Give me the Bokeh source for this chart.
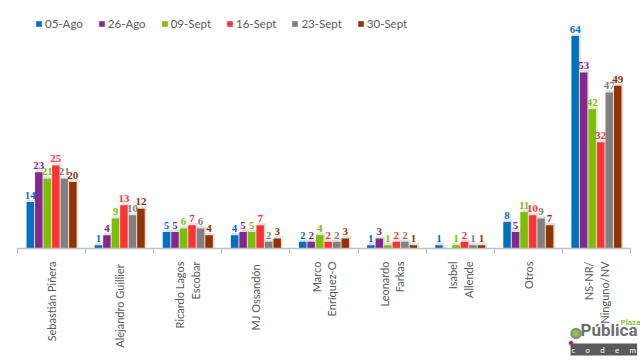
import math
from bokeh.plotting import figure
from bokeh.models import (ColumnDataSource, FixedTicker, Range1d, Legend, LegendItem, Label)
from bokeh.embed import file_html
from bokeh.resources import INLINE

categories = ["Sebastián Piñera", "Alejandro  Guillier", "Ricardo Lagos\nEscobar", "MJ  Ossandón",
              "Marco\nEnríquez-O", "Leonardo\nFarkas", "Isabel\nAllende", "Otros", "NS-NR/\nNinguno/NV"]
series_names = ["05-Ago", "26-Ago", "09-Sept", "16-Sept", "23-Sept", "30-Sept"]
v_05ago = [14, 1, 5, 4, 2, 1, 1, 8, 64]
v_26ago = [23, 4, 5, 5, 2, 3, 0, 5, 53]
v_09sep = [21, 9, 6, 5, 4, 1, 1, 11, 42]
v_16sep = [25, 13, 7, 7, 2, 2, 2, 10, 32]
v_23sep = [21, 10, 6, 2, 2, 2, 1, 9, 47]
v_30sep = [20, 12, 4, 3, 3, 1, 1, 7, 49]
series_values = [v_05ago, v_26ago, v_09sep, v_16sep, v_23sep, v_30sep]
colors = ["#0070C0", "#84278F", "#7DBE00", "#FF3333", "#808080", "#923300"]

FONT = "Lato"
n = len(categories)
W, H = 640, 364
PX_X = 613 / 9.0          # pixels per category
PX_Y = 3.32               # pixels per percentage point
BASE = 248                # baseline, pixels from top
LEFT = 17
xs0 = -0.5 - LEFT / PX_X
xs1 = xs0 + W / PX_X
ys1 = BASE / PX_Y
ys0 = -(H - BASE) / PX_Y

p = figure(width=W, height=H, output_backend="svg", toolbar_location=None,
           x_range=Range1d(xs0, xs1), y_range=Range1d(ys0, ys1),
           min_border=0, min_border_left=0, min_border_right=0,
           min_border_top=0, min_border_bottom=0)
p.outline_line_color = None
p.grid.visible = False
p.yaxis.visible = False
p.background_fill_color = "white"

def dx(px):
    return xs0 + px / PX_X
def dy(py):
    return (BASE - py) / PX_Y

step = 0.125
bw = 0.11
items = []
for j, (name, vals, col) in enumerate(zip(series_names, series_values, colors)):
    xs = [i + (j - 2.5) * step for i in range(n)]
    sh = ColumnDataSource(dict(x=[x + 0.018 for x in xs], top=[v + 0.7 if v > 0 else 0 for v in vals]))
    p.vbar(x="x", top="top", bottom=0, width=bw + 0.02, source=sh, fill_color="#c9c9c9",
           fill_alpha=0.55, line_color=None)
    src = ColumnDataSource(dict(x=xs, top=vals))
    r = p.vbar(x="x", top="top", bottom=0, width=bw, source=src, fill_color=col, line_color=None)
    items.append(LegendItem(label=name, renderers=[r]))
    lx = [x for x, v in zip(xs, vals) if v > 0]
    ly = [v + 1.0 for v in vals if v > 0]
    lt = [str(v) for v in vals if v > 0]
    p.text(x=lx, y=ly, text=lt, text_color=col, text_font_size="11px", text_font_style="bold",
           text_align="center", text_baseline="bottom", text_font=FONT)

legend = Legend(items=items, orientation="horizontal", location=(35, H - 30),
                label_text_font=FONT, label_text_font_size="11.5px", label_text_color="#595959",
                glyph_width=7, glyph_height=7, label_standoff=3, spacing=15,
                background_fill_alpha=0, border_line_color=None, padding=0, margin=0,
                label_height=12, label_width=10)
p.add_layout(legend)

ax = p.xaxis[0]
ax.fixed_location = 0
ax.bounds = (-0.5, n - 0.5)
ax.ticker = FixedTicker(ticks=list(range(n)), minor_ticks=[i - 0.5 for i in range(n + 1)])
ax.major_label_overrides = {i: c for i, c in enumerate(categories)}
ax.major_label_orientation = math.pi / 2
ax.major_tick_out = 0
ax.major_tick_in = 0
ax.minor_tick_out = 5
ax.minor_tick_in = 0
ax.minor_tick_line_color = "#BFBFBF"
ax.axis_line_color = "#BFBFBF"
ax.axis_line_width = 1.5
ax.major_label_text_font = FONT
ax.major_label_text_font_size = "11px"
ax.major_label_text_color = "#595959"
ax.major_label_standoff = 8

# logo
NB = "\u00a0" * 5
p.add_layout(Label(x=dx(580), y=dy(339), text="Pública", text_font="Roboto",
                   text_font_size="17px", text_color="#6E6E6E", text_baseline="bottom",
                   text_font_style="bold"))
p.add_layout(Label(x=dx(620), y=dy(326), text="Plaza", text_font="Roboto",
                   text_font_size="8px", text_color="#8CC63F", text_baseline="bottom",
                   text_font_style="bold"))
p.add_layout(Label(x=dx(570), y=dy(349), text=NB.join("codem"), text_font=FONT,
                   text_font_size="8px", text_color="white", text_baseline="middle",
                   background_fill_color="#5A5A5A", padding=1))
p.scatter(x=[dx(575.5)], y=[dy(333)], size=9, marker="circle", fill_color="#8CC63F",
          line_color="#8A8A8A", line_width=2.5)
p.scatter(x=[dx(570.5)], y=[dy(342.5)], size=5, marker="circle", fill_color="#C0007A",
          line_color="#dddddd", line_width=1)

open("out.html", "w").write(file_html(p, INLINE))
